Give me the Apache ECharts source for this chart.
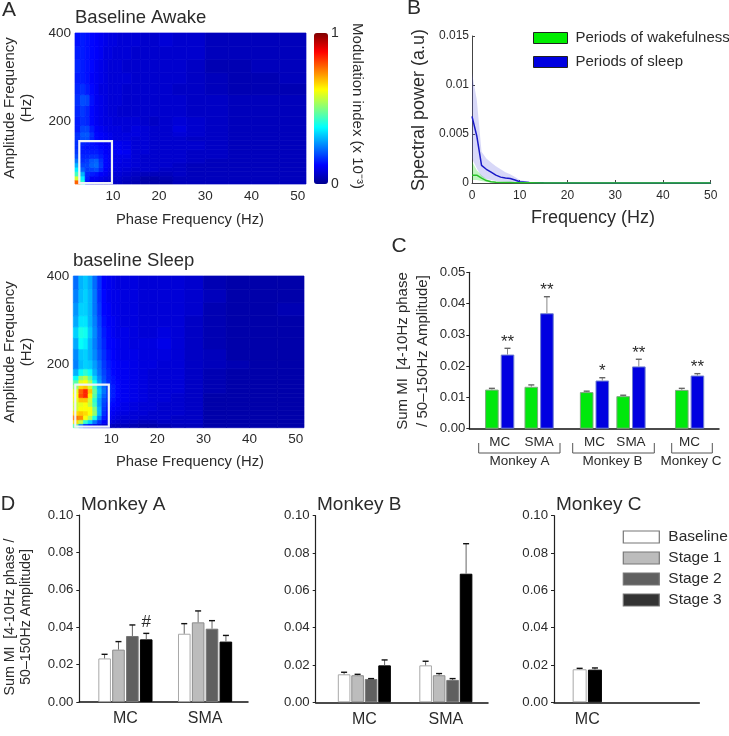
<!DOCTYPE html>
<html><head><meta charset="utf-8">
<style>html,body{margin:0;padding:0;background:#fff}#c{width:729px;height:736px}</style>
<script src="https://cdn.jsdelivr.net/npm/echarts@6/dist/echarts.min.js"></script>
</head><body><div id="c"></div>
<script>
// ---------- Panel A data (modulation index, % of colour bar) ----------
const phaseEdges=[1.8,3,4,5,6,7,8,9,10,11,12,14,16,18,20,23,26,30,35,40,46,51.8];
const ampEdges=[57,66,75,85,95,105,115,125,135,145,155,165,175,190,210,235,260,285,310,340,370,400];
// rows run from the lowest amplitude band upward
const miAwake=[
[78,42,14,10,9,8,7,7,6,6,5,4,3,3,3,5,5,5,5,5,5],
[58,36,15,11,11,10,9,8,7,7,6,5,3,3,4,5,5,5,5,5,5],
[44,30,16,15,14,12,11,9,8,8,7,6,5,5,5,6,5,5,5,5,5],
[36,22,18,19,20,16,12,10,9,9,8,7,7,7,6,6,5,5,5,5,5],
[30,19,19,22,23,18,13,11,10,9,9,8,7,7,7,6,5,5,5,5,5],
[24,17,18,21,22,17,13,11,10,10,9,8,7,7,7,7,6,5,5,5,5],
[20,16,16,17,17,15,13,11,10,10,10,8,7,7,7,7,6,6,5,5,5],
[18,15,15,15,15,14,12,11,11,12,11,8,8,7,7,7,6,6,5,5,5],
[17,15,14,14,14,13,12,11,11,11,10,8,8,7,7,7,7,6,5,5,5],
[17,16,15,14,13,12,11,11,11,11,10,8,8,7,7,7,7,6,5,5,5],
[17,20,20,16,13,12,11,10,9,9,9,8,8,7,7,7,6,6,5,5,5],
[17,21,21,17,13,12,11,10,9,9,9,9,8,7,7,8,7,6,5,5,5],
[15,19,19,15,12,11,10,9,9,9,8,9,8,7,7,9,7,6,5,5,5],
[15,17,16,13,11,10,9,9,8,8,8,8,7,6,7,8,7,6,5,5,5],
[16,18,16,13,11,10,9,8,8,7,7,7,7,7,7,7,6,6,5,5,5],
[17,20,19,14,11,10,9,8,8,8,7,7,7,7,7,7,6,6,5,5,5],
[16,17,15,13,11,9,9,8,8,8,7,7,7,7,7,6,6,5,4,4,4],
[15,15,14,12,11,10,9,8,8,8,8,7,7,7,7,7,6,5,4,4,5],
[16,15,14,13,11,10,9,8,8,8,7,7,7,7,7,7,6,4,4,5,5],
[15,15,14,13,12,11,9,9,8,8,8,7,7,7,7,7,7,5,5,5,5],
[14,15,14,13,12,11,10,9,9,8,8,8,7,7,8,7,7,5,5,5,5]];
const miSleep=[
[46,25,15,12,10,8,7,6,5,5,5,4,3,3,4,5,5,3,3,3,3],
[66,56,42,33,24,17,12,10,8,7,7,6,5,5,6,6,6,3,3,3,3],
[76,74,62,54,40,24,15,12,10,9,8,8,7,7,7,6,6,3,3,3,3],
[66,68,66,62,52,30,17,13,11,10,9,8,8,7,7,7,6,3,3,3,3],
[58,62,62,62,50,30,18,14,12,11,10,9,8,8,7,7,6,3,3,3,3],
[58,60,62,56,44,28,19,15,13,12,10,9,8,8,7,7,6,3,3,3,3],
[60,68,68,58,42,28,20,17,14,12,11,10,9,8,8,7,6,3,3,3,3],
[62,80,84,64,46,30,22,18,15,13,11,10,9,8,8,7,6,3,3,3,3],
[60,78,84,68,48,32,24,18,15,13,11,10,9,8,8,8,6,4,3,3,3],
[52,66,68,58,44,30,23,18,15,13,11,10,9,8,8,8,6,4,3,3,3],
[46,60,62,54,39,28,21,17,14,13,11,10,9,8,8,8,6,4,3,3,3],
[38,52,56,46,34,26,20,16,14,12,11,10,9,8,8,8,6,4,3,3,3],
[30,38,42,38,30,24,19,16,13,12,11,10,9,8,8,8,6,4,3,3,3],
[25,31,33,32,28,23,18,15,13,12,11,10,9,9,8,8,6,5,4,3,3],
[26,32,33,30,26,21,17,14,12,11,10,10,9,9,9,8,6,5,3,3,3],
[29,38,36,30,25,20,16,13,12,11,10,9,9,9,10,8,6,4,3,3,3],
[33,40,39,32,26,20,15,13,11,10,10,9,8,8,9,8,6,4,3,3,3],
[29,35,35,30,25,19,14,12,11,10,9,9,8,8,8,8,6,4,3,3,3],
[27,33,33,30,24,18,13,12,10,10,9,9,8,8,8,8,7,4,3,3,4],
[25,31,33,30,24,17,13,11,10,10,9,9,8,8,8,8,7,5,3,3,3],
[23,30,32,29,23,17,12,11,10,9,9,9,8,8,8,8,7,4,3,3,3]];
const boxAwake=[2.73,9.8,59,154.5];
const boxSleep=[2.23,9.5,59.6,154.5];
// ---------- Panel B data ----------
const specFreq=[0,1,2,3,4,5,6,7,8,9,10,12,15,20,30,50];
const sleepMean=[.0068,.0048,.0018,.0014,.0011,.0008,.0006,.0005,.00045,.0003,.00012,.00006,.00002,.00001,.00001,.00001];
const sleepHigh=[.0112,.0085,.0032,.0025,.0021,.0017,.0014,.0011,.0009,.0006,.0003,.0001,.00003,.00002,.00001,.00001];
const sleepLow=[.0025,.0015,.0006,.0004,.0003,.0002,.00015,.00012,.0001,.00008,.00005,.00002,.00001,.00001,.00001,.00001];
const wakeMean=[.0008,.0008,.0005,.00025,.00012,.00008,.00006,.00005,.00004,.00003,.00002,.00002,.00001,.00001,.00001,.00001];
const wakeHigh=[.0022,.0013,.0008,.0004,.0002,.00012,.00009,.00007,.00006,.00004,.00003,.00002,.00002,.00001,.00001,.00001];
const wakeLow=[.0003,.0003,.0002,.0001,.00005,.00004,.00003,.00003,.00002,.00002,.00001,.00001,.00001,.00001,.00001,.00001];
// ---------- Panel C data ----------
const areasAB=['MC','SMA'], areasC=['MC'];
const cWakeA=[.0125,.0134], cWakeAErr=[.0129,.0140];
const cSleepA=[.0237,.0369], cSleepAErr=[.0257,.0422], cSigA=['**','**'];
const cWakeB=[.0117,.0104], cWakeBErr=[.0120,.0107];
const cSleepB=[.0154,.0199], cSleepBErr=[.0163,.0222], cSigB=['*','**'];
const cWakeC=[.0124], cWakeCErr=[.0129];
const cSleepC=[.0170], cSleepCErr=[.0176], cSigC=['**'];
// ---------- Panel D data ----------
const stages=['Baseline','Stage 1','Stage 2','Stage 3'];
const dA=[[.0233,.0365],[.0280,.0426],[.0353,.0392],[.0335,.0323]];
const dAErr=[[.0255,.0419],[.0323,.0487],[.0412,.0435],[.0367,.0356]];
const dASig=[[],[],[],['#']];
const dB=[[.0150,.0198],[.0145,.0145],[.0125,.0120],[.0198,.0689]];
const dBErr=[[.0161,.0220],[.0150,.0154],[.0127,.0127],[.0227,.0850]];
const dC=[[.0177],[.0175]];
const dCErr=[[.0182],[.0184]];
const jetStops=['#00008f','#0000ff','#0080ff','#00ffff','#80ff80','#ffff00','#ff8000','#ff0000','#800000'];

const FONT='"Liberation Sans",Arial,sans-serif', INK='#2b2b2b';
const grid=[],xAxis=[],yAxis=[],series=[],graphic=[];
function addGrid(l,r,t,b){grid.push({left:l,width:r-l,top:t,height:b-t,containLabel:false});return grid.length-1;}
function txt(text,x,y,size,opt){opt=opt||{};graphic.push({type:'text',x:x,y:y,rotation:opt.rot||0,z:50,style:{text:text,font:size+'px '+FONT,fill:opt.fill||INK,textAlign:opt.align||'center',textVerticalAlign:'middle',lineHeight:opt.lh||size+2}});}
function heatmap(idx,l,r,t,b,matrix,box,name){
  const g=addGrid(l,r,t,b);
  xAxis.push({gridIndex:g,type:'value',min:1.8,max:51.8,axisLine:{show:false},splitLine:{show:false},
    axisTick:{show:false},axisLabel:{customValues:[10,20,30,40,50],margin:5,fontSize:13.5,color:INK,fontFamily:FONT}});
  yAxis.push({gridIndex:g,type:'value',min:57,max:400,axisLine:{show:false},splitLine:{show:false},
    axisTick:{show:false},axisLabel:{customValues:[200,400],margin:4,fontSize:13.5,color:INK,fontFamily:FONT}});
  const data=[];
  matrix.forEach((row,i)=>row.forEach((v,j)=>data.push([phaseEdges[j],phaseEdges[j+1],ampEdges[i],ampEdges[i+1],v])));
  series.push({type:'custom',name:name,xAxisIndex:g,yAxisIndex:g,data:data,silent:true,animation:false,
    encode:{x:[0,1],y:[2,3]},dimensions:['x0','x1','y0','y1','mi'],
    renderItem:(p,api)=>{const a=api.coord([api.value(0),api.value(2)]),c=api.coord([api.value(1),api.value(3)]);const col=api.visual('color');
      return {type:'rect',shape:{x:a[0],y:c[1],width:c[0]-a[0],height:a[1]-c[1]},style:{fill:col,stroke:col,lineWidth:.7}};}});
  series.push({type:'custom',name:name+' window',xAxisIndex:g,yAxisIndex:g,data:[box],silent:true,animation:false,z:5,
    encode:{x:[0,1],y:[2,3]},
    renderItem:(p,api)=>{const a=api.coord([api.value(0),api.value(2)]),c=api.coord([api.value(1),api.value(3)]);
      return {type:'rect',shape:{x:a[0],y:c[1],width:c[0]-a[0],height:a[1]-c[1]},style:{fill:'none',stroke:'#eef2f8',lineWidth:2.2}};}});
}
heatmap(0,75,306,33,184,miAwake,boxAwake,'Baseline Awake');
heatmap(1,73.3,304,276,427.7,miSleep,boxSleep,'baseline Sleep');

// ---- B ----
const gB=addGrid(472,710.7,36,183);
xAxis.push({gridIndex:gB,type:'value',min:0,max:50,interval:10,splitLine:{show:false},
  axisLine:{lineStyle:{color:'#444'}},axisTick:{inside:true,length:3,lineStyle:{color:'#444'}},
  axisLabel:{fontSize:12,color:INK,fontFamily:FONT,margin:7}});
yAxis.push({gridIndex:gB,type:'value',min:0,max:.015,interval:.005,splitLine:{show:false},
  axisLine:{show:true,lineStyle:{color:'#444'}},axisTick:{show:true,inside:true,length:3,lineStyle:{color:'#444'}},
  axisLabel:{fontSize:12,color:INK,fontFamily:FONT,margin:3,formatter:v=>v===0?'0':String(+v.toFixed(3))}});
function band(name,low,high,color){
  series.push({type:'custom',name:name+' band',xAxisIndex:gB,yAxisIndex:gB,silent:true,animation:false,z:1,
    data:specFreq.map((f,i)=>[f,low[i],high[i]]),encode:{x:0,y:[1,2]},
    renderItem:(p,api)=>{
      if(p.dataIndex!==0)return null;
      const pts=[];
      specFreq.forEach((f,i)=>pts.push(api.coord([f,high[i]])));
      for(let i=specFreq.length-1;i>=0;i--)pts.push(api.coord([specFreq[i],low[i]]));
      return {type:'polygon',shape:{points:pts},style:{fill:color}};
    }});
}
band('sleep',sleepLow,sleepHigh,'rgba(90,90,225,.24)');
band('wake',wakeLow,wakeHigh,'rgba(0,220,0,.25)');
series.push({type:'line',name:'Periods of sleep',xAxisIndex:gB,yAxisIndex:gB,showSymbol:false,animation:false,z:3,
  data:specFreq.map((f,i)=>[f,sleepMean[i]]),lineStyle:{color:'#1818c8',width:1.5},itemStyle:{color:'#0000e0'}});
series.push({type:'line',name:'Periods of wakefulness',xAxisIndex:gB,yAxisIndex:gB,showSymbol:false,animation:false,z:4,
  data:specFreq.map((f,i)=>[f,wakeMean[i]]),lineStyle:{color:'#28c028',width:1.5},itemStyle:{color:'#00ee00'}});

// ---- bars helpers ----
function baseFrame(l,r,t,b,max,interval,fs,margin){
  const g=addGrid(l,r,t,b);
  xAxis.push({gridIndex:g,type:'value',min:0,max:1,axisLabel:{show:false},axisTick:{show:false},splitLine:{show:false},
    axisLine:{lineStyle:{color:'#111',width:1.5}}});
  yAxis.push({gridIndex:g,type:'value',min:0,max:max,interval:interval,splitLine:{show:false},
    axisLine:{show:true,lineStyle:{color:'#222',width:1.2}},axisTick:{show:true,length:3,lineStyle:{color:'#222'}},
    axisLabel:{fontSize:fs,color:INK,fontFamily:FONT,margin:margin,formatter:v=>v.toFixed(2)}});
  series.push({type:'line',xAxisIndex:g,yAxisIndex:g,data:[],silent:true});
}
function innerFrame(l,r,t,b,max,cats,fs,margin){
  const g=addGrid(l,r,t,b);
  xAxis.push({gridIndex:g,type:'category',data:cats,axisLine:{show:false},axisTick:{show:false},
    axisLabel:{fontSize:fs,color:INK,fontFamily:FONT,margin:margin,interval:0}});
  yAxis.push({gridIndex:g,type:'value',min:0,max:max,show:false});
  return g;
}
function barWithError(g,name,vals,tops,idx,n,bw,gapPct,stride,color,border,whisker,cap,marks,markFs,markGap){
  series.push({type:'bar',name:name,xAxisIndex:g,yAxisIndex:g,data:vals,barWidth:bw,barGap:gapPct,animation:false,
    itemStyle:{color:color,borderColor:border,borderWidth:1}});
  series.push({type:'custom',name:name+' error',xAxisIndex:g,yAxisIndex:g,z:4,silent:true,animation:false,
    data:vals.map((v,i)=>[i,tops[i],v]),encode:{x:0,y:1},
    renderItem:(p,api)=>{
      const off=(idx-(n-1)/2)*stride;
      const t=api.coord([api.value(0),api.value(1)]),b=api.coord([api.value(0),api.value(2)]);
      const x=t[0]+off;
      const kids=[{type:'line',shape:{x1:x,y1:b[1],x2:x,y2:t[1]},style:{stroke:whisker,lineWidth:1}},
        {type:'line',shape:{x1:x-3,y1:t[1],x2:x+3,y2:t[1]},style:{stroke:cap,lineWidth:1.4}}];
      const m=marks&&marks[p.dataIndex];
      if(m)kids.push({type:'text',style:{text:m,x:x,y:t[1]-markGap,textAlign:'center',textVerticalAlign:'middle',font:markFs+'px '+FONT,fill:INK}});
      return {type:'group',children:kids};
    }});
}
// ---- C ----
const GREEN='#00e80c',BLUE='#0000e0',GB='#7fa87f',BB='#6f7fd0';
baseFrame(469.3,719,272.3,428.7,.05,.01,13.2,4);
[[480,558.8,areasAB,'Monkey A',cWakeA,cWakeAErr,cSleepA,cSleepAErr,cSigA],
 [576.25,649.25,areasAB,'Monkey B',cWakeB,cWakeBErr,cSleepB,cSleepBErr,cSigB],
 [670.6,708.6,areasC,'Monkey C',cWakeC,cWakeCErr,cSleepC,cSleepCErr,cSigC]].forEach(a=>{
  const g=innerFrame(a[0],a[1],272.3,428.7,.05,a[2],13.5,7);
  barWithError(g,'Wakefulness '+a[3],a[4],a[5],0,2,13.6,'15%',15.6,GREEN,GB,'#888','#666',null);
  barWithError(g,'Sleep '+a[3],a[6],a[7],1,2,13.6,'15%',15.6,BLUE,BB,'#888','#666',a[8],17,6);
});
// ---- D ----
const stageFill=['#ffffff','#bcbcbc','#606060','#000000'];
const stageLine=['#a8a8a8','#8c8c8c','#777777','#000000'];
baseFrame(79.3,248,515,702,.1,.02,13.2,6);
const gDA=innerFrame(85.6,244.9,515,702,.1,areasAB,16,9);
stages.forEach((s,i)=>barWithError(gDA,s,dA[i],dAErr[i],i,4,12.6,'10%',13.9,stageFill[i],stageLine[i],'#666','#111',dASig[i],17,11));
baseFrame(315.7,488,515.7,702.3,.1,.02,13.2,6);
const gDB=innerFrame(323.6,486.6,515.7,702.3,.1,areasAB,16,9);
stages.forEach((s,i)=>barWithError(gDB,s,dB[i],dBErr[i],i,4,12.6,'7%',13.5,stageFill[i],stageLine[i],'#666','#111'));
baseFrame(554,699.3,515.7,702.3,.1,.02,13.2,6);
const gDC=innerFrame(554,620.6,515.7,702.3,.1,areasC,16,9);
[0,3].forEach((si,k)=>barWithError(gDC,stages[si],dC[k],dCErr[k],k,2,14,'9%',15.3,stageFill[si],stageLine[si],'#666','#111'));

// ---- text ----
txt('A',9,10,21);txt('B',414,8,21);txt('C',399,246,21);txt('D',8,504,20);
txt('Baseline Awake',75,18,18.5,{align:'left'});
txt('baseline Sleep',73,260.7,18.5,{align:'left'});
txt('Amplitude Frequency\n(Hz)',18.5,108,15,{rot:Math.PI/2,lh:17});
txt('Amplitude Frequency\n(Hz)',18,352,15,{rot:Math.PI/2,lh:17});
txt('Phase Frequency (Hz)',190,220,14.8);
txt('Phase Frequency (Hz)',190,462,14.8);
txt('Modulation index (x 10\u207B\u00B3)',357,106,15,{rot:-Math.PI/2});
txt('1',331,33,14,{align:'left'});txt('0',331,184,14,{align:'left'});
txt('Spectral power (a.u)',419,110,18,{rot:Math.PI/2});
txt('Frequency (Hz)',593,218,18);
txt('Sum MI  [4-10Hz phase\n/ 50\u2013150Hz Amplitude]',413,351,15,{rot:Math.PI/2,lh:20});
txt('Monkey A',519.5,461.7,13.5);txt('Monkey B',612.5,461.7,13.5);txt('Monkey C',691,461.7,13.5);
[[478.7,560],[572.7,654.3],[671.7,712.3]].forEach(b=>graphic.push({type:'polyline',z:50,shape:{points:[[b[0],443],[b[0],453],[b[1],453],[b[1],443]]},style:{stroke:'#555',lineWidth:1,fill:'none'}}));
txt('Monkey A',81,505,19,{align:'left'});
txt('Monkey B',317,505,19,{align:'left'});
txt('Monkey C',556,505,19,{align:'left'});
txt('Sum MI  [4-10Hz phase /\n50\u2013150Hz Amplitude]',18.5,617,14.2,{rot:Math.PI/2,lh:16});

const option={animation:false,backgroundColor:'#fff',textStyle:{fontFamily:FONT},grid,xAxis,yAxis,series,graphic,
  visualMap:[{type:'continuous',seriesIndex:[0,2],dimension:4,min:0,max:100,calculable:false,showLabel:false,text:null,
    left:299,top:18,itemWidth:14,itemHeight:151,inRange:{color:jetStops},textStyle:{fontSize:0},hoverLink:false}],
  legend:[
   {left:528,top:25.5,orient:'vertical',icon:'rect',itemWidth:34,itemHeight:11,itemGap:9,selectedMode:false,
    textStyle:{fontSize:15,color:INK,fontFamily:FONT,padding:[0,0,0,3]},
    data:[{name:'Periods of wakefulness',itemStyle:{color:'#00ee00',borderColor:'#222',borderWidth:1}},
          {name:'Periods of sleep',itemStyle:{color:'#0000e0',borderColor:'#222',borderWidth:1}}]},
   {left:617.7,top:524,orient:'vertical',icon:'rect',itemWidth:36,itemHeight:12,itemGap:5,selectedMode:false,
    textStyle:{fontSize:15.5,color:INK,fontFamily:FONT,padding:[0,0,0,4]},
    data:stages.map((s,i)=>({name:s,itemStyle:{color:['#ffffff','#bcbcbc','#606060','#333333'][i],borderColor:'#777',borderWidth:1.2}}))}
  ]};
echarts.init(document.getElementById('c'),null,{renderer:'canvas'}).setOption(option);
</script></body></html>
